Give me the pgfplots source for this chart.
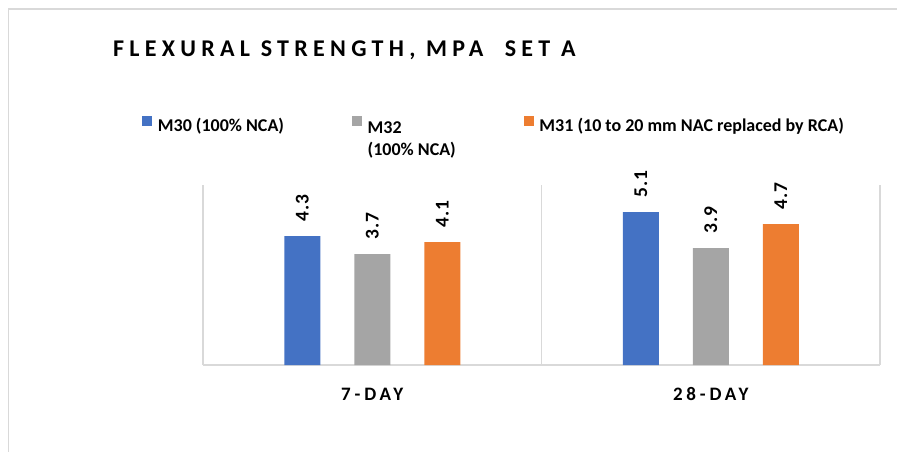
\documentclass[border=0pt]{standalone}
\usepackage{fontspec}
\setmainfont{Carlito}
\newfontface\titlefont[LetterSpace=22]{Carlito Bold}
\newfontface\tickfont[LetterSpace=20]{Carlito Bold}
\newfontface\labelfont[LetterSpace=6]{Carlito Bold}
\usepackage{pgfplots}
\pgfplotsset{compat=1.18}
\definecolor{cblue}{HTML}{4472C4}
\definecolor{cgray}{HTML}{A5A5A5}
\definecolor{corange}{HTML}{ED7D31}
\definecolor{cline}{HTML}{D9D9D9}
\begin{document}
\begin{tikzpicture}
\path[use as bounding box] (0bp,0bp) rectangle (897bp,-452bp);
\draw[cline, line width=1.2bp] (8.5bp,-452bp) -- (8.5bp,-9bp) -- (897bp,-9bp);
\node[anchor=base west, inner sep=0pt, font=\fontsize{24bp}{28bp}\titlefont] at (113bp,-56.7bp) {FLEXURAL STRENGTH, MPA~~SET A};
\begin{axis}[
  at={(203bp,-365bp)}, anchor=south west,
  scale only axis, width=677bp, height=180bp,
  xmin=-0.5, xmax=1.5, ymin=0, ymax=6,
  clip=false,
  axis y line=none, axis x line*=bottom,
  x axis line style={cline, line width=1.5bp},
  xtick={0,1}, xticklabels={7-DAY,28-DAY},
  major tick length=0pt, minor tick length=0pt,
  minor xtick={-0.5,0.5,1.5}, xminorgrids,
  minor grid style={cline, line width=1.2bp},
  xticklabel style={font=\fontsize{19bp}{23bp}\tickfont, anchor=base, yshift=-35bp},
  ybar=34bp,
  bar width=36bp,
  nodes near coords={\pgfmathprintnumber[fixed,precision=1,assume math mode=true]{\pgfplotspointmeta}},
  every node near coord/.append style={rotate=90, anchor=west, inner xsep=3bp, inner ysep=0pt, xshift=11bp, text=black, font=\fontsize{19.5bp}{23bp}\labelfont},
  legend columns=3,
  legend style={draw=none, fill=none, inner sep=0pt, at={(-0.0901,1.387)}, anchor=north west,
    font=\bfseries\fontsize{18bp}{22bp}\selectfont,
    nodes={inner sep=0pt},
    /tikz/every odd column/.append style={column sep=5.7bp},
    /tikz/every even column/.append style={column sep=68bp}},
]
\addplot[fill=cblue, draw=none,
  legend image code/.code={\fill[cblue] (0bp,0.5bp) rectangle (10bp,10.5bp);}]
  coordinates {(0,4.3) (1,5.1)};
\addlegendentry{M30 (100\% NCA)}
\addplot[fill=cgray, draw=none,
  legend image code/.code={\fill[cgray] (0bp,0.5bp) rectangle (10bp,10.5bp);}]
  coordinates {(0,3.7) (1,3.9)};
\addlegendentry{\begin{tabular}[t]{@{}l@{}}M32\\(100\% NCA)\end{tabular}}
\addplot[fill=corange, draw=none,
  legend image code/.code={\fill[corange] (0bp,0.5bp) rectangle (10bp,10.5bp);}]
  coordinates {(0,4.1) (1,4.7)};
\addlegendentry{M31 (10 to 20 mm NAC replaced by RCA)}
\end{axis}
\end{tikzpicture}
\end{document}
